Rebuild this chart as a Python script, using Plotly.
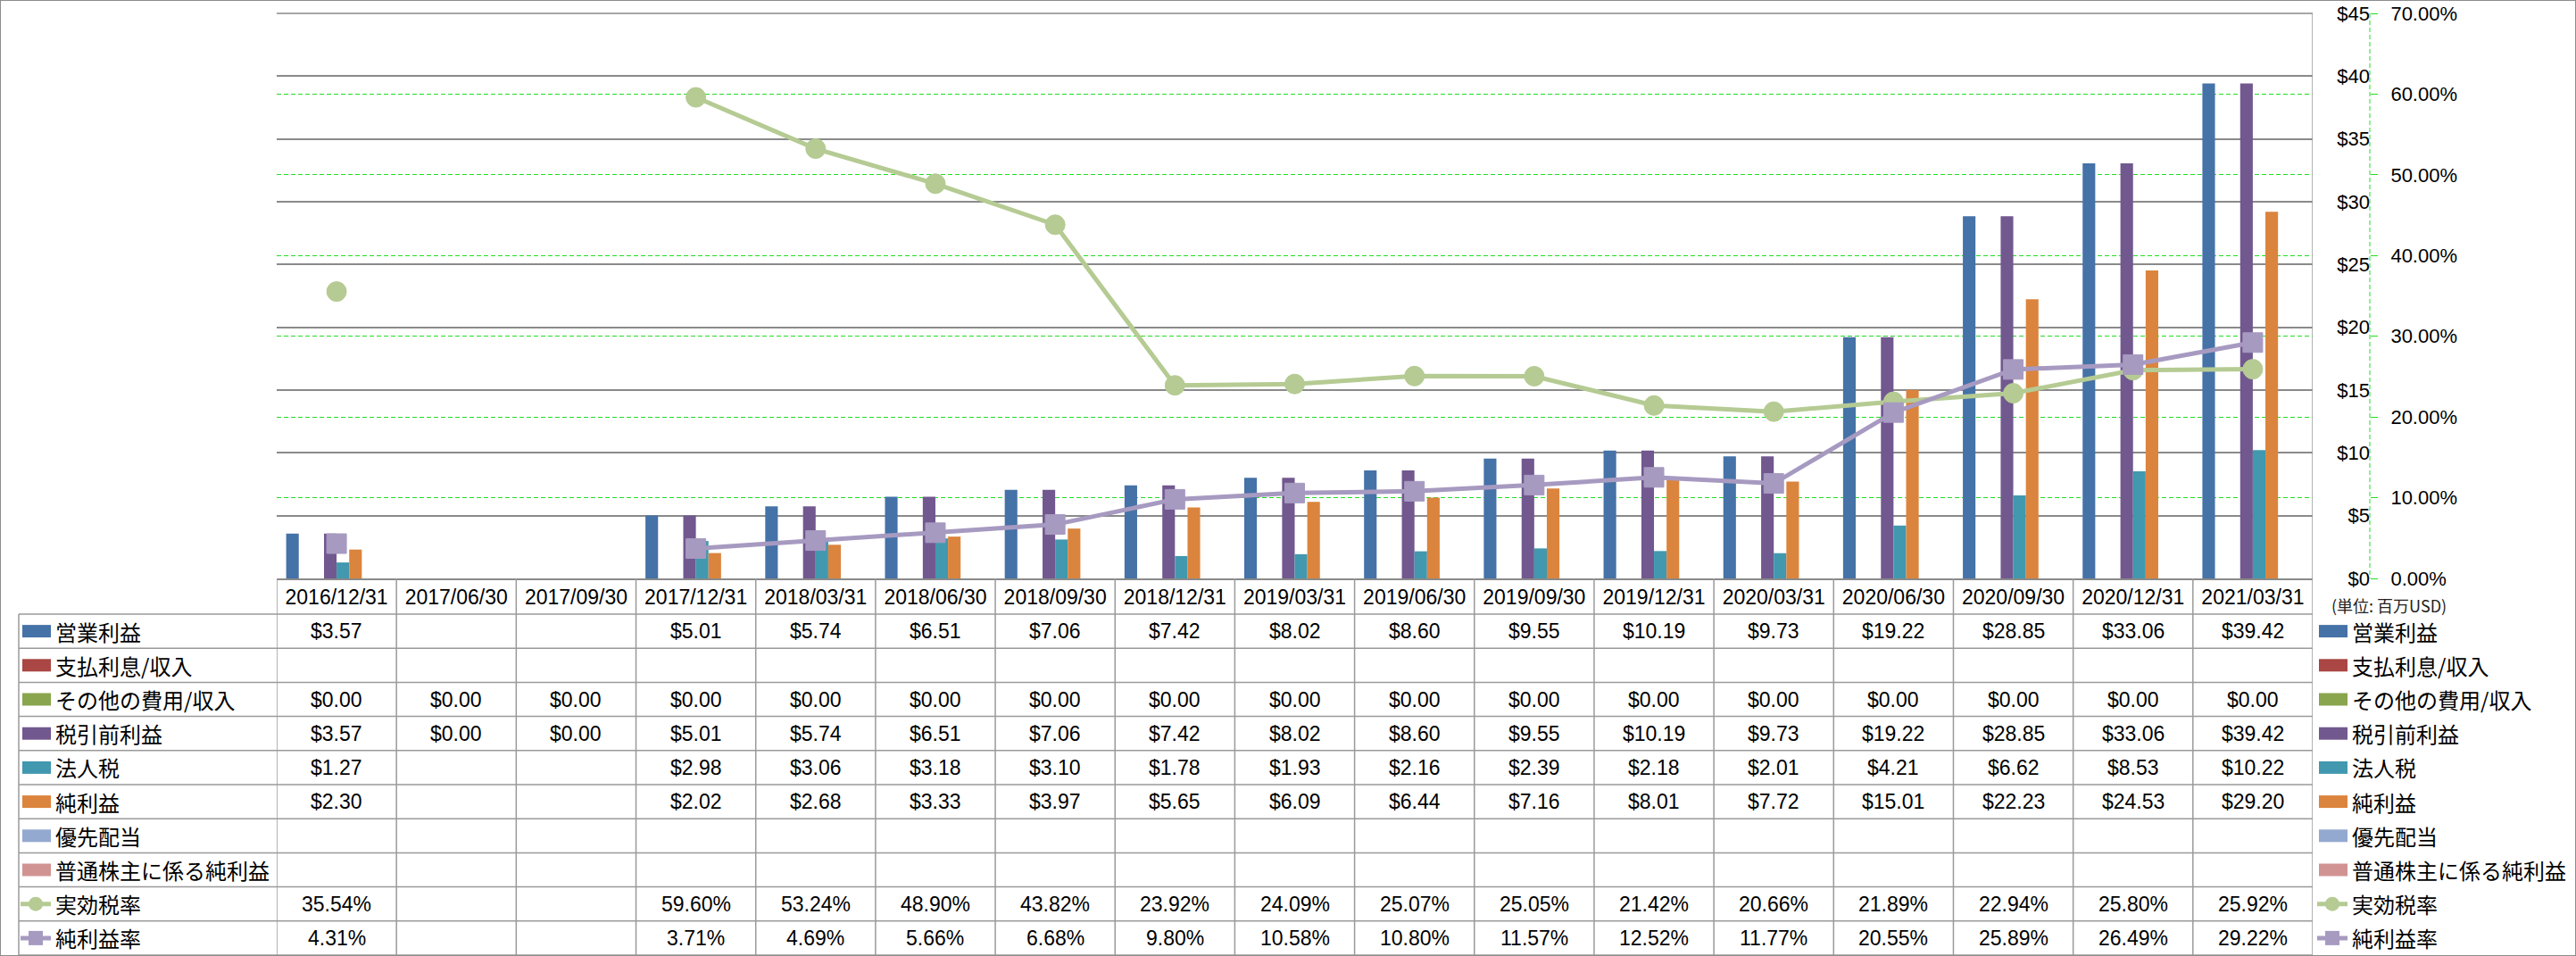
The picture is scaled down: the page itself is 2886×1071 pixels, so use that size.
import plotly.graph_objects as go

W, H = 2886, 1071

categories = ["2016/12/31", "2017/06/30", "2017/09/30", "2017/12/31", "2018/03/31",
              "2018/06/30", "2018/09/30", "2018/12/31", "2019/03/31", "2019/06/30",
              "2019/09/30", "2019/12/31", "2020/03/31", "2020/06/30", "2020/09/30",
              "2020/12/31", "2021/03/31"]

op_income = [3.57, None, None, 5.01, 5.74, 6.51, 7.06, 7.42, 8.02, 8.60, 9.55, 10.19, 9.73, 19.22, 28.85, 33.06, 39.42]
interest = [None] * 17
other = [0.00] * 17
pretax = [3.57, 0.00, 0.00, 5.01, 5.74, 6.51, 7.06, 7.42, 8.02, 8.60, 9.55, 10.19, 9.73, 19.22, 28.85, 33.06, 39.42]
income_tax = [1.27, None, None, 2.98, 3.06, 3.18, 3.10, 1.78, 1.93, 2.16, 2.39, 2.18, 2.01, 4.21, 6.62, 8.53, 10.22]
net_income = [2.30, None, None, 2.02, 2.68, 3.33, 3.97, 5.65, 6.09, 6.44, 7.16, 8.01, 7.72, 15.01, 22.23, 24.53, 29.20]
pref_div = [None] * 17
net_common = [None] * 17
eff_tax_rate = [35.54, None, None, 59.60, 53.24, 48.90, 43.82, 23.92, 24.09, 25.07, 25.05, 21.42, 20.66, 21.89, 22.94, 25.80, 25.92]
net_margin = [4.31, None, None, 3.71, 4.69, 5.66, 6.68, 9.80, 10.58, 10.80, 11.57, 12.52, 11.77, 20.55, 25.89, 26.49, 29.22]

bar_names = ["営業利益", "支払利息/収入", "その他の費用/収入", "税引前利益", "法人税", "純利益", "優先配当", "普通株主に係る純利益"]
bar_values = [op_income, interest, other, pretax, income_tax, net_income, pref_div, net_common]
bar_colors = ["#4572A7", "#AA4643", "#89A54E", "#71588F", "#4198AF", "#DB843D", "#93A9CF", "#D19392"]

line_names = ["実効税率", "純利益率"]
line_values = [eff_tax_rate, net_margin]
line_colors = ["#B5CB93", "#A79AC1"]
marker_symbols = ["circle", "square"]

y_max = 45
y2_max = 0.7

FONT = "Liberation Sans, Noto Sans CJK JP, sans-serif"
CJK = "Noto Sans CJK JP, Liberation Sans, sans-serif"

def px(x):
    return x / W

def py(y):
    return 1 - y / H

plot_left, plot_right, plot_top, plot_bottom = 310, 2591, 15, 648
axis_x = 2655
table_left = 21
table_top = 688
row_h = 38.2
n_rows = 10

fig = go.Figure()

group_frac = 0.842
bw = group_frac / len(bar_names)
for k, (name, vals, color) in enumerate(zip(bar_names, bar_values, bar_colors)):
    fig.add_trace(go.Bar(
        x=categories, y=vals, name=name,
        marker=dict(color=color, line=dict(width=0)),
        width=bw, offset=-group_frac / 2 + k * bw,
        yaxis="y", showlegend=False))

for name, vals, color, sym in zip(line_names, line_values, line_colors, marker_symbols):
    fig.add_trace(go.Scatter(
        x=categories, y=[None if v is None else v / 100 for v in vals], name=name,
        mode="lines+markers", connectgaps=False,
        line=dict(color=color, width=5),
        marker=dict(symbol=sym, size=22, color=color, line=dict(color=color, width=1)),
        yaxis="y2", showlegend=False))

shapes = []
line_col = "#9A9A9A"
# top border of plot area (gridline at the range maximum)
shapes.append(dict(type="line", xref="paper", yref="paper", x0=px(plot_left), x1=px(plot_right),
                   y0=py(plot_top), y1=py(plot_top), line=dict(color="#8A8A8A", width=1.5)))
for r in range(n_rows + 1):
    y = table_top + r * row_h
    shapes.append(dict(type="line", xref="paper", yref="paper", x0=px(table_left), x1=px(plot_right),
                       y0=py(y), y1=py(y), line=dict(color=line_col, width=1.5)))
shapes.append(dict(type="line", xref="paper", yref="paper", x0=px(table_left), x1=px(table_left),
                   y0=py(table_top), y1=py(table_top + n_rows * row_h), line=dict(color=line_col, width=1.5)))
for i in range(len(categories) + 1):
    top = plot_top if i == len(categories) else plot_bottom
    shapes.append(dict(type="line", xref="x", yref="paper", x0=i - 0.5, x1=i - 0.5,
                       y0=py(top), y1=py(table_top + n_rows * row_h), line=dict(color=line_col, width=1.5)))
shapes.append(dict(type="line", xref="paper", yref="paper", x0=px(axis_x), x1=px(axis_x),
                   y0=py(plot_top), y1=py(plot_bottom), line=dict(color="#22DD22", width=1, dash="5px,3px")))
shapes.append(dict(type="rect", xref="paper", yref="paper", x0=0, x1=1, y0=0, y1=1,
                   line=dict(color="#8C8C8C", width=2)))

annotations = []
all_names = bar_names + line_names
all_values = bar_values + line_values

def add_key(kind, idx, x_left, yc):
    if kind == "bar":
        shapes.append(dict(type="rect", xref="paper", yref="paper", x0=px(x_left), x1=px(x_left + 32),
                           y0=py(yc + 7), y1=py(yc - 7), fillcolor=bar_colors[idx], line=dict(width=0)))
    else:
        c = line_colors[idx]
        shapes.append(dict(type="line", xref="paper", yref="paper", x0=px(x_left - 2), x1=px(x_left + 32),
                           y0=py(yc), y1=py(yc), line=dict(color=c, width=5)))
        cx = x_left + 15
        stype = "circle" if marker_symbols[idx] == "circle" else "rect"
        shapes.append(dict(type=stype, xref="paper", yref="paper", x0=px(cx - 8), x1=px(cx + 8),
                           y0=py(yc + 8), y1=py(yc - 8), fillcolor=c, line=dict(width=0)))

for r, (name, vals) in enumerate(zip(all_names, all_values)):
    yc = table_top + r * row_h + row_h / 2
    kind = "bar" if r < len(bar_names) else "line"
    idx = r if kind == "bar" else r - len(bar_names)
    add_key(kind, idx, 25, yc)
    annotations.append(dict(xref="paper", yref="paper", x=px(60), y=py(yc), text=name, showarrow=False,
                            xanchor="left", yanchor="middle", font=dict(family=CJK, size=24, color="#000000")))
    add_key(kind, idx, 2598, yc)
    annotations.append(dict(xref="paper", yref="paper", x=px(2633), y=py(yc), text=name, showarrow=False,
                            xanchor="left", yanchor="middle", font=dict(family=CJK, size=24, color="#000000")))
    for i, v in enumerate(vals):
        if v is None:
            continue
        txt = f"${v:.2f}" if kind == "bar" else f"{v:.2f}%"
        annotations.append(dict(xref="x", yref="paper", x=categories[i], y=py(yc), text=txt, showarrow=False,
                                xanchor="center", yanchor="middle", font=dict(family=FONT, size=23, color="#000000")))

annotations.append(dict(xref="paper", yref="paper", x=px(2610), y=py(678), text="(単位: 百万USD)", showarrow=False,
                        xanchor="left", yanchor="middle", font=dict(family=CJK, size=18, color="#222222")))

fig.update_layout(
    width=W, height=H, margin=dict(l=0, r=0, t=0, b=0, autoexpand=False),
    paper_bgcolor="white", plot_bgcolor="white",
    barmode="overlay", showlegend=False,
    font=dict(family=FONT, size=22, color="#000000"),
    xaxis=dict(domain=[px(plot_left), px(plot_right)], type="category", range=[-0.5, 16.5],
               showgrid=False, zeroline=False, showline=True, linecolor="#8A8A8A", linewidth=1.5,
               ticks="", tickfont=dict(size=23, family=FONT), anchor="y", automargin=False),
    yaxis=dict(domain=[py(plot_bottom), py(plot_top)], range=[0, y_max], dtick=5, tick0=0, tickprefix="$",
               anchor="free", position=px(axis_x), side="left", showgrid=True, gridcolor="#8A8A8A",
               gridwidth=1.5, zeroline=False, showline=False, ticks="", automargin=False,
               tickfont=dict(size=22, family=FONT)),
    yaxis2=dict(overlaying="y", range=[0, y2_max], dtick=0.1, tick0=0, tickformat=".2%",
                anchor="free", position=px(axis_x), side="right", showgrid=True, gridcolor="#22DD22",
                griddash="5px,3px", gridwidth=1, zeroline=False, showline=False, automargin=False,
                ticks="outside", ticklen=8, tickcolor="#22DD22", tickwidth=1,
                ticklabelstandoff=10, tickfont=dict(size=22, family=FONT)),
    shapes=shapes, annotations=annotations,
)

fig.write_html("out.html", config={"displayModeBar": False},
               post_script="document.body.style.margin='0px';document.body.style.padding='0px';"
                           "document.documentElement.style.overflow='hidden';document.body.style.overflow='hidden';")
